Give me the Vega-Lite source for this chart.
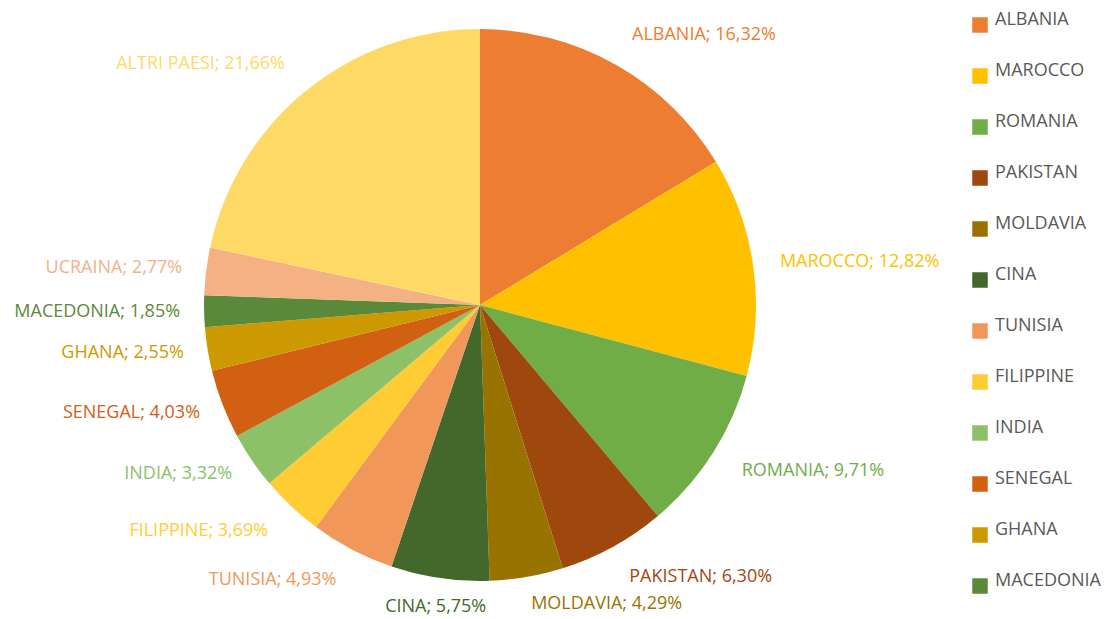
{
  "$schema": "https://vega.github.io/schema/vega-lite/v6.json",
  "width": 960,
  "height": 610,
  "padding": 0,
  "background": "white",
  "config": {"view": {"stroke": null}, "font": "Open Sans"},
  "data": {"values": [
    {"ord": 1, "country": "ALBANIA", "pct": 16.32, "label": "ALBANIA; 16,32%"},
    {"ord": 2, "country": "MAROCCO", "pct": 12.82, "label": "MAROCCO; 12,82%"},
    {"ord": 3, "country": "ROMANIA", "pct": 9.71, "label": "ROMANIA; 9,71%"},
    {"ord": 4, "country": "PAKISTAN", "pct": 6.30, "label": "PAKISTAN; 6,30%"},
    {"ord": 5, "country": "MOLDAVIA", "pct": 4.29, "label": "MOLDAVIA; 4,29%"},
    {"ord": 6, "country": "CINA", "pct": 5.75, "label": "CINA; 5,75%"},
    {"ord": 7, "country": "TUNISIA", "pct": 4.93, "label": "TUNISIA; 4,93%"},
    {"ord": 8, "country": "FILIPPINE", "pct": 3.69, "label": "FILIPPINE; 3,69%"},
    {"ord": 9, "country": "INDIA", "pct": 3.32, "label": "INDIA; 3,32%"},
    {"ord": 10, "country": "SENEGAL", "pct": 4.03, "label": "SENEGAL; 4,03%"},
    {"ord": 11, "country": "GHANA", "pct": 2.55, "label": "GHANA; 2,55%"},
    {"ord": 12, "country": "MACEDONIA", "pct": 1.85, "label": "MACEDONIA; 1,85%"},
    {"ord": 13, "country": "UCRAINA", "pct": 2.77, "label": "UCRAINA; 2,77%"},
    {"ord": 14, "country": "ALTRI PAESI", "pct": 21.66, "label": "ALTRI PAESI; 21,66%"}
  ]},
  "encoding": {
    "theta": {"field": "pct", "type": "quantitative", "stack": true},
    "order": {"field": "ord", "type": "quantitative"},
    "color": {
      "field": "country", "type": "nominal",
      "scale": {
        "domain": ["ALBANIA", "MAROCCO", "ROMANIA", "PAKISTAN", "MOLDAVIA", "CINA", "TUNISIA", "FILIPPINE", "INDIA", "SENEGAL", "GHANA", "MACEDONIA", "UCRAINA", "ALTRI PAESI"],
        "range": ["#ED7D31", "#FFC000", "#70AD47", "#9E480E", "#997300", "#43682B", "#F1975A", "#FFCD33", "#8CC168", "#D26012", "#CC9A00", "#5A8A39", "#F4B183", "#FFD966"]
      },
      "legend": {
        "title": null,
        "orient": "none",
        "legendX": 971,
        "legendY": 16,
        "values": ["ALBANIA", "MAROCCO", "ROMANIA", "PAKISTAN", "MOLDAVIA", "CINA", "TUNISIA", "FILIPPINE", "INDIA", "SENEGAL", "GHANA", "MACEDONIA"],
        "symbolType": "square",
        "symbolSize": 240,
        "symbolStrokeWidth": 0,
        "labelFont": "Open Sans",
        "labelFontSize": 18,
        "labelColor": "#595959",
        "labelBaseline": "alphabetic",
        "labelOffset": 6,
        "rowPadding": 29,
        "padding": 0
      }
    }
  },
  "layer": [
    {"mark": {"type": "arc", "outerRadius": 276}},
    {
      "mark": {"type": "text", "radius": 310, "align": "left", "baseline": "middle", "fontSize": 18},
      "encoding": {
        "text": {"condition": {"test": {"field": "country", "oneOf": ["ALBANIA", "ROMANIA", "PAKISTAN"]}, "field": "label"}, "value": ""}
      }
    },
    {
      "mark": {"type": "text", "radius": 303, "align": "left", "baseline": "middle", "fontSize": 18},
      "encoding": {
        "text": {"condition": {"test": {"field": "country", "oneOf": ["MAROCCO", "MOLDAVIA"]}, "field": "label"}, "value": ""}
      }
    },
    {
      "mark": {"type": "text", "radius": 305, "align": "center", "baseline": "middle", "fontSize": 18},
      "encoding": {
        "text": {"condition": {"test": {"field": "country", "oneOf": ["CINA"]}, "field": "label"}, "value": ""}
      }
    },
    {
      "mark": {"type": "text", "radius": 310, "align": "right", "baseline": "middle", "fontSize": 18},
      "encoding": {
        "text": {"condition": {"test": {"field": "country", "oneOf": ["TUNISIA", "FILIPPINE", "ALTRI PAESI"]}, "field": "label"}, "value": ""}
      }
    },
    {
      "mark": {"type": "text", "radius": 300, "align": "right", "baseline": "middle", "fontSize": 18},
      "encoding": {
        "text": {"condition": {"test": {"field": "country", "oneOf": ["INDIA", "SENEGAL", "GHANA", "MACEDONIA", "UCRAINA"]}, "field": "label"}, "value": ""}
      }
    }
  ]
}
